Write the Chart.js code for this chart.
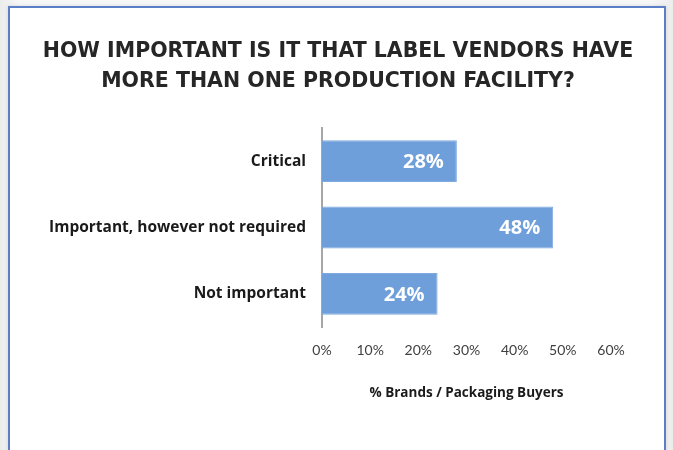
<!DOCTYPE html>
<html>
<head>
<meta charset="utf-8">
<script src="https://cdn.jsdelivr.net/npm/chart.js@4.4.1/dist/chart.umd.min.js"></script>
<style>
  html, body { margin: 0; padding: 0; }
  body {
    width: 673px; height: 450px; overflow: hidden; position: relative;
    background: linear-gradient(to right, #ececec, #f7f7f7 3%, #f7f7f7 97%, #ececec);
  }
  #frame {
    position: absolute; left: 8px; top: 6px; width: 654px; height: 470px;
    background: #fff; border: 2px solid #5a7fc6;
    box-shadow: 0 0 4px rgba(0,0,0,0.12);
  }
  #wrap { position: absolute; left: 0; top: 0; width: 673px; height: 450px; }
</style>
</head>
<body>
<div id="frame"></div>
<div id="wrap"><canvas id="chart"></canvas></div>
<script>
const categories = ['Critical', 'Important, however not required', 'Not important'];
const shares = [28, 48, 24];
const tickValues = [0, 10, 20, 30, 40, 50, 60];
const titleLines = ['HOW IMPORTANT IS IT THAT LABEL VENDORS HAVE', 'MORE THAN ONE PRODUCTION FACILITY?'];
const axisTitle = '% Brands / Packaging Buyers';

// two-line heading, centred on the framed page rather than the plot
const pageTitle = {
  id: 'pageTitle',
  afterDraw(chart) {
    const ctx = chart.ctx;
    ctx.save();
    ctx.font = 'bold 20.5px "DejaVu Sans"';
    ctx.fillStyle = '#262626';
    ctx.textAlign = 'center';
    ctx.textBaseline = 'middle';
    titleLines.forEach((line, i) => ctx.fillText(line, 338, 52 + i * 30));
    ctx.restore();
  }
};

// white percentage labels at the inner end of each bar
const barValueLabels = {
  id: 'barValueLabels',
  afterDatasetsDraw(chart) {
    const ctx = chart.ctx;
    const meta = chart.getDatasetMeta(0);
    ctx.save();
    ctx.font = 'bold 20px "Open Sans"';
    ctx.fillStyle = '#ffffff';
    ctx.textAlign = 'right';
    ctx.textBaseline = 'middle';
    meta.data.forEach((bar, i) => {
      ctx.fillText(shares[i] + '%', bar.x - 13, bar.y + 1);
    });
    ctx.restore();
  }
};

new Chart(document.getElementById('chart'), {
  type: 'bar',
  data: {
    labels: categories,
    datasets: [{
      data: shares,
      backgroundColor: '#6f9fda',
      borderColor: '#7eaae0',
      borderWidth: 1,
      barPercentage: 0.63,
      categoryPercentage: 1
    }]
  },
  options: {
    indexAxis: 'y',
    responsive: true,
    maintainAspectRatio: false,
    animation: false,
    layout: { padding: { left: 20, right: 62, top: 128, bottom: 45 } },
    plugins: {
      legend: { display: false },
      tooltip: { enabled: false },
      title: { display: false }
    },
    scales: {
      x: {
        min: 0,
        max: 60,
        afterBuildTicks(scale) {
          scale.ticks = tickValues.map(v => ({ value: v }));
        },
        grid: { display: false, drawTicks: false },
        border: { display: false },
        ticks: {
          color: '#404040',
          font: { family: 'Lato', size: 14 },
          padding: 15,
          callback: v => v + '%'
        },
        title: {
          display: true,
          text: axisTitle,
          color: '#1a1a1a',
          font: { family: 'Open Sans', size: 13.5, weight: 'bold' },
          padding: { top: 11 }
        }
      },
      y: {
        grid: { display: false, drawTicks: false },
        border: { display: true, color: '#a6a6a6', width: 2 },
        afterFit(scale) { scale.width = 302; },
        ticks: {
          color: '#1a1a1a',
          font: { family: 'Open Sans', size: 15.5, weight: 'bold' },
          padding: 16
        }
      }
    }
  },
  plugins: [barValueLabels, pageTitle]
});
</script>
</body>
</html>
